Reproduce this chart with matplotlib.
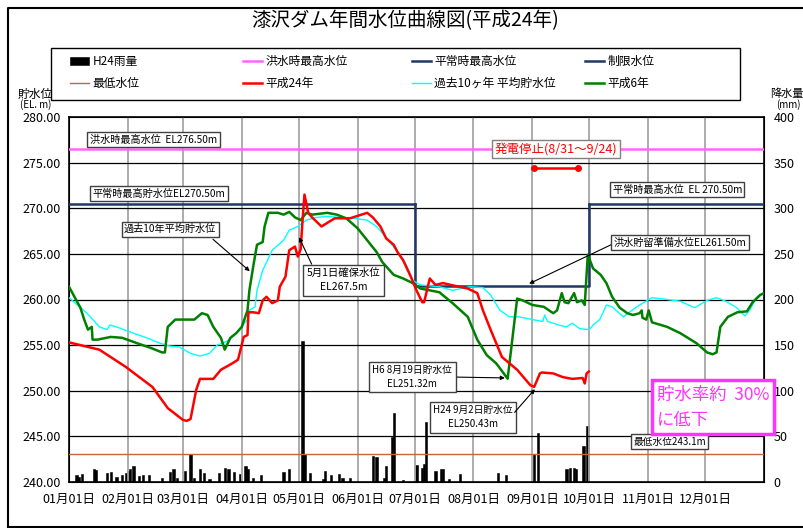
import matplotlib
matplotlib.use("Agg")
import matplotlib.pyplot as plt
from matplotlib.lines import Line2D
from matplotlib.patches import Rectangle

plt.rcParams['font.family'] = ['Noto Sans CJK JP', 'DejaVu Sans']

# --- data (day of year 2012, 0 = Jan 1) ---
h24_day = [0, 16, 30, 44, 52, 60, 62, 64, 67, 69, 76, 80, 86, 89, 92, 94, 94.5, 97, 100, 102,
           104, 107, 110, 111, 114, 116, 119, 120.5, 122, 123, 124, 126, 128, 133, 136, 140,
           148, 157, 160, 164, 167, 171, 173, 176, 180, 183, 186, 187, 190, 193, 197, 201,
           210, 215, 218, 222, 228, 236, 243, 245, 248, 249, 255, 260, 265, 270.5, 271.6,
           272.6, 273.7]
h24_lvl = [255.3, 254.5, 252.6, 250.4, 248.1, 246.8, 246.7, 246.9, 250.1, 251.3, 251.3, 252.3,
           253.0, 253.4, 255.9, 256.1, 258.6, 258.6, 258.5, 259.9, 260.3, 259.6, 259.9, 261.4,
           262.5, 265.4, 265.8, 264.7, 265.5, 268.7, 271.5, 269.5, 269.0, 268.0, 268.4, 268.9,
           268.9, 269.5, 269.0, 268.0, 266.7, 266.0, 265.2, 264.3, 262.5, 261.0, 259.7, 259.7,
           262.3, 261.6, 261.8, 261.6, 261.2, 260.7, 258.8, 256.7, 253.7, 252.3, 250.6, 250.43,
           251.9, 252.0, 251.9, 251.5, 251.3, 251.4, 250.8, 251.9, 252.1]

h6_day = [0, 6, 8, 10, 12, 12.4, 15, 22, 28, 36, 43, 49, 50.5, 52, 56, 66, 70, 73, 76, 80, 82,
          85, 88, 91, 94, 95, 97, 99, 102, 103, 105, 110, 113, 116, 119, 122, 125, 128, 136,
          141, 146, 152, 157, 162, 165, 171, 176, 181, 185, 195, 202, 210, 215, 220, 225, 231,
          236, 239, 244, 250, 255, 257, 259.5, 261, 263, 266, 267.5, 270, 271.6, 273.2, 276,
          280, 283, 286, 290, 294, 297, 300.5, 301.6, 302, 304, 305.3, 307, 315, 322, 330.5,
          336, 339, 341, 343, 347, 352, 357, 360, 364, 366]
h6_lvl = [261.4, 259.1, 257.8, 256.7, 257.0, 255.6, 255.6, 255.9, 255.8, 255.2, 254.7, 254.2,
          254.2, 257.0, 257.8, 257.8, 258.5, 258.3, 257.0, 255.8, 254.5, 255.8, 256.3, 257.0,
          258.8, 261.0, 263.6, 266.0, 266.3, 268.0, 269.5, 269.5, 269.3, 269.6, 269.0, 268.7,
          269.5, 269.3, 269.5, 269.3, 268.9, 267.8, 266.5, 265.2, 264.1, 262.7, 262.3, 261.8,
          261.2, 260.8, 259.6, 258.1, 255.6, 253.9, 253.0, 251.32, 260.1, 259.9, 259.4, 259.2,
          258.5, 258.8, 260.7, 259.7, 259.6, 260.7, 259.7, 259.9, 259.4, 264.9, 263.4, 262.7,
          261.8, 260.3, 259.1, 258.5, 258.3, 258.5, 258.8, 258.0, 257.8, 258.8, 257.5, 257.0,
          256.3, 255.2, 254.2, 254.0, 254.2, 257.0, 258.1, 258.6, 258.7, 259.7, 260.5, 260.7]

avg_day = [0, 9.5, 16, 20, 21.6, 25, 34, 41, 48, 53, 58, 64, 69, 74, 78, 83, 88, 94, 95, 98, 99,
           102, 107, 113, 116, 120.5, 125, 130.5, 136, 143, 149.5, 157, 162, 167, 173, 178,
           181, 185, 195, 202, 211, 218, 222, 227, 232, 237, 244, 249.5, 250.5, 252, 258, 262,
           265, 269, 274, 276, 279.5, 283, 286, 292, 295, 300.5, 307, 315, 322, 329.5, 336,
           341, 346, 351.6, 356, 358.4, 362, 366]
avg_lvl = [260.2, 258.5, 257.0, 256.7, 257.2, 257.0, 256.3, 255.8, 255.2, 254.9, 254.8, 254.1,
           253.8, 254.1, 255.0, 255.4, 256.3, 257.8, 258.8, 259.2, 261.0, 263.2, 265.4, 266.5,
           267.6, 268.0, 268.7, 269.0, 269.1, 269.0, 268.9, 268.7, 268.0, 266.8, 265.2, 263.6,
           262.1, 261.6, 261.4, 261.0, 261.4, 261.3, 260.5, 258.8, 258.1, 258.1, 257.8, 257.6,
           258.3, 257.6, 257.2, 257.0, 257.4, 256.8, 256.7, 257.2, 257.8, 259.4, 259.2, 258.1,
           258.6, 259.4, 260.2, 260.0, 259.8, 259.1, 259.9, 260.2, 259.8, 259.1, 258.2, 258.8,
           260.2, 260.7]

rain_day = [4, 5, 7, 13, 14, 20, 22, 25, 28, 30, 31, 32, 34, 37, 39, 42, 49, 53, 55, 57, 61, 64,
            66, 69, 71, 74, 79, 82, 84, 87, 90, 93, 94, 97, 101, 113, 116, 123, 124, 127, 134,
            135, 138, 142, 144, 148, 160, 162, 166, 167, 170, 171, 176, 183, 186, 187, 188, 193,
            196, 197, 200, 206, 226, 230, 245, 247, 262, 264, 266, 267, 271, 273]
rain_mm = [8, 6, 9, 14, 13, 10, 11, 5, 8, 10, 12.5, 14, 17, 7, 8, 8, 4, 11, 14, 4, 12.5, 31, 4,
           14, 10, 3, 10, 15, 14, 11, 9, 18, 14, 4, 8, 11, 14, 155, 31, 10, 3, 12.5, 8, 9, 4, 4,
           29, 27, 4, 17, 49, 76, 2, 19, 15, 20, 66, 12.5, 14, 14, 3, 9, 10, 8, 31, 54, 14, 15,
           15, 14, 40, 61]

flood_max = 276.5
normal_max = 270.5
limit_lvl = 261.5
min_lvl = 243.1
limit_start, limit_end = 182, 274
stop_days = [245, 268]
stop_lvl = 274.4

month_days = [0, 31, 60, 91, 121, 152, 182, 213, 244, 274, 305, 335]
month_labels = ['%02d月01日' % m for m in range(1, 13)]

navy = '#1f3864'

fig = plt.figure(figsize=(8.04, 5.28), dpi=100)
ax = fig.add_axes([69/804, 46/528, 695/804, 365/528])
ax2 = ax.twinx()
ax.set_zorder(ax2.get_zorder() + 1)
ax.patch.set_visible(False)

bars = ax2.bar(rain_day, rain_mm, width=1.2, color='black', edgecolor='black', linewidth=0.4,
               label='H24雨量')
ax2.set_ylim(0, 400)
ax2.set_yticks(range(0, 401, 50))

ax.axhline(flood_max, color='#ff66ff', lw=1.8, label='洪水時最高水位', zorder=3)
ax.plot([0, limit_start, float('nan'), limit_end, 366],
        [normal_max, normal_max, float('nan'), normal_max, normal_max],
        color=navy, lw=1.8, label='平常時最高水位', zorder=3)
ax.plot([limit_start, limit_start, limit_end, limit_end],
        [normal_max, limit_lvl, limit_lvl, normal_max],
        color=navy, lw=1.8, label='制限水位', zorder=3)
ax.axhline(min_lvl, color='#c8643c', lw=1, label='最低水位', zorder=3)
ax.plot(h24_day, h24_lvl, color='red', lw=1.8, label='平成24年', zorder=5)
ax.plot(avg_day, avg_lvl, color='cyan', lw=1.0, label='過去10ヶ年 平均貯水位', zorder=4)
ax.plot(h6_day, h6_lvl, color='green', lw=1.8, label='平成6年', zorder=4)

ax.set_xlim(0, 366)
ax.set_ylim(240, 280)
ax.set_yticks(range(240, 281, 5))
ax.set_yticklabels(['%.2f' % v for v in range(240, 281, 5)])
ax.set_xticks(month_days)
ax.set_xticklabels(month_labels)
for d in month_days[1:]:
    ax.axvline(d, color='#a6a6a6', lw=1.3, zorder=1)
for v in range(245, 280, 5):
    ax.axhline(v, color='black', lw=0.9, zorder=1)
ax.tick_params(axis='both', length=0, labelsize=9)
ax.tick_params(axis='y', pad=6)
ax.tick_params(axis='x', pad=8)
ax2.tick_params(axis='y', length=0, labelsize=9, pad=7)
for sp in ax.spines.values():
    sp.set_linewidth(1.2)

# generation stop
ax.plot(stop_days, [stop_lvl, stop_lvl], color='red', lw=1.8, marker='o', ms=4, zorder=6)

box = dict(boxstyle='square,pad=0.25', fc='white', ec='#404040', lw=1)
box2 = dict(boxstyle='square,pad=0.35', fc='white', ec='#404040', lw=1)
arrow = dict(arrowstyle='-|>', color='black', lw=0.8, mutation_scale=6)
ax.text(11, 277.5, '洪水時最高水位  EL276.50m', fontsize=7.3, ha='left', va='center', bbox=box, zorder=7)
ax.text(12.5, 271.6, '平常時最高貯水位EL270.50m', fontsize=7.3, ha='left', va='center', bbox=box, zorder=7)
ax.text(29, 267.7, '過去10年平均貯水位', fontsize=7.3, ha='left', va='center', bbox=box, zorder=7)
ax.annotate('', xy=(96.3, 262.9), xytext=(74.7, 266.8), arrowprops=arrow, zorder=7)
ax.text(144.7, 262.1, '5月1日確保水位\nEL267.5m', fontsize=7.5, ha='center', va='center',
        linespacing=1.5, bbox=box2, zorder=7)
ax.annotate('', xy=(120.5, 267.1), xytext=(128.4, 263.6), arrowprops=arrow, zorder=7)
ax.text(256.3, 276.5, '発電停止(8/31～9/24)', fontsize=9, color='red', ha='center', va='center',
        bbox=dict(boxstyle='square,pad=0.2', fc='white', ec='#808080', lw=1), zorder=7)
ax.text(320.3, 272.05, '平常時最高水位  EL 270.50m', fontsize=7.3, ha='center', va='center', bbox=box, zorder=7)
ax.text(321.6, 266.25, '洪水貯留準備水位EL261.50m', fontsize=7.3, ha='center', va='center', bbox=box, zorder=7)
ax.annotate('', xy=(241, 261.6), xytext=(287.5, 266.2), arrowprops=arrow, zorder=6)
ax.text(180.8, 251.5, 'H6 8月19日貯水位\nEL251.32m', fontsize=7, ha='center', va='center',
        linespacing=1.5, bbox=box2, zorder=7)
ax.annotate('', xy=(231, 251.4), xytext=(203, 251.5), arrowprops=arrow, zorder=7)
ax.text(212.9, 247.1, 'H24 9月2日貯水位\nEL250.43m', fontsize=7, ha='center', va='center',
        linespacing=1.5, bbox=box2, zorder=7)
ax.annotate('', xy=(246.3, 250.4), xytext=(233.7, 247.4), arrowprops=arrow, zorder=7)
ax.text(316.3, 244.4, '最低水位243.1m', fontsize=7, ha='center', va='center', bbox=box, zorder=7)
ax.text(309.5, 248.2, '貯水率約  30%\nに低下', fontsize=12.5, color='#ff33ff', ha='left', va='center',
        linespacing=1.5, clip_on=False,
        bbox=dict(boxstyle='square,pad=0.3', fc='white', ec='#ff33ff', lw=2.5), zorder=8)

# legend: four columns placed like the reference, inside one frame
h, l = ax.get_legend_handles_labels()
lookup = dict(zip(l, h))
lookup['H24雨量'] = bars
columns = [('H24雨量', '最低水位'), ('洪水時最高水位', '平成24年'),
           ('平常時最高水位', '過去10ヶ年 平均貯水位'), ('制限水位', '平成6年')]
col_x = [70, 243, 412, 585]
for cx, names in zip(col_x, columns):
    fig.legend([lookup[k] for k in names], names, loc='upper left',
               bbox_to_anchor=(cx/804, 1 - 55/528), borderaxespad=0, borderpad=0,
               fontsize=8.5, frameon=False, handlelength=1.6, handletextpad=0.3,
               labelspacing=0.75)
fig.add_artist(Rectangle((51/804, 1 - 100/528), 689/804, 52/528, transform=fig.transFigure,
                         fill=False, ec='black', lw=1))

fig.text(405/804, 1 - 21/528, '漆沢ダム年間水位曲線図(平成24年)', fontsize=14, ha='center', va='center')
fig.text(18/804, 1 - 94/528, '貯水位', fontsize=8.5, ha='left', va='center')
fig.text(20/804, 1 - 105/528, '(EL. m)', fontsize=7, ha='left', va='center')
fig.text(770/804, 1 - 94/528, '降水量', fontsize=8, ha='left', va='center')
fig.text(776/804, 1 - 105/528, '(mm)', fontsize=7, ha='left', va='center')

# outer frame
fig.add_artist(Line2D([8/804, 8/804, 1], [1/528, 1 - 8/528, 1 - 8/528], color='black', lw=1.5,
                      transform=fig.transFigure))
fig.add_artist(Line2D([8/804, 1], [1/528, 1/528], color='black', lw=1.5, transform=fig.transFigure))

fig.savefig('out.png', dpi=100)
